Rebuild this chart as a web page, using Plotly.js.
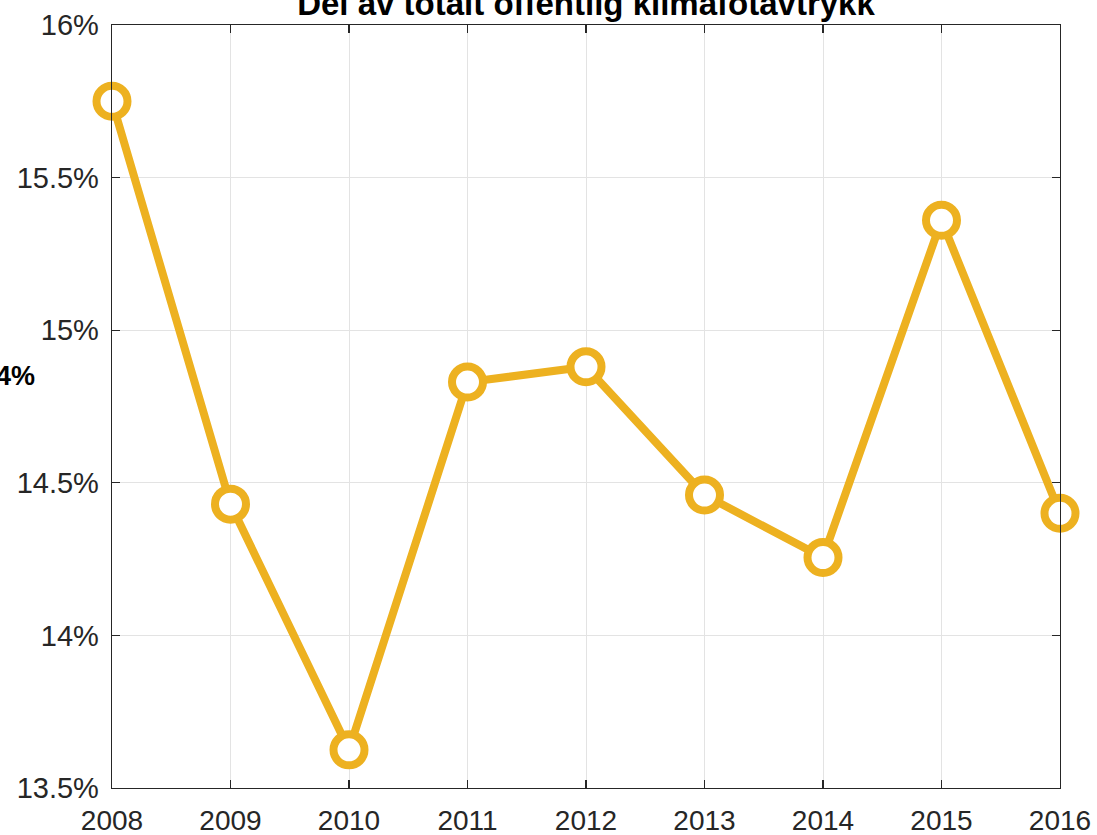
<!DOCTYPE html>
<html>
<head>
<meta charset="utf-8">
<script src="https://cdn.plot.ly/plotly-3.0.1.min.js"></script>
<style>html,body{margin:0;padding:0;background:#fff;}#chart{width:1097px;height:835px;}</style>
</head>
<body>
<div id="chart"></div>
<script>
const years = [2008, 2009, 2010, 2011, 2012, 2013, 2014, 2015, 2016];
const shares = [15.75, 14.43, 13.625, 14.83, 14.88, 14.46, 14.255, 15.36, 14.40];
const yTicks = [13.5, 14, 14.5, 15, 15.5, 16];
const yTickLabels = ['13.5%', '14%', '14.5%', '15%', '15.5%', '16%'];
const titleText = 'Del av totalt offentlig klimafotavtrykk';
const sideLabel = '14%';
const sideLabelValue = 14.85;

const color = '#EDB120';
const axisColor = '#262626';

const trace = {
  x: years,
  y: shares,
  type: 'scatter',
  mode: 'lines+markers',
  cliponaxis: false,
  line: {color: color, width: 8},
  marker: {symbol: 'circle', size: 31, color: '#ffffff', line: {color: color, width: 8}},
  hoverinfo: 'skip'
};

const layout = {
  width: 1097,
  height: 835,
  margin: {l: 112, r: 37, t: 25, b: 47},
  paper_bgcolor: '#ffffff',
  plot_bgcolor: '#ffffff',
  showlegend: false,
  font: {family: 'Liberation Sans, Arial, sans-serif', color: axisColor},
  title: {
    text: '<b>' + titleText + '</b>',
    font: {size: 33, color: '#000000', family: 'Liberation Sans, Arial, sans-serif'},
    x: 0.5, xanchor: 'center', xref: 'paper',
    y: 0.996, yanchor: 'middle', yref: 'container'
  },
  xaxis: {
    range: [2008, 2016],
    tickvals: years,
    ticktext: years.map(String),
    tickfont: {size: 28, color: axisColor},
    ticklabelstandoff: 7,
    showgrid: true, gridcolor: '#e3e3e3', gridwidth: 1,
    zeroline: false,
    showline: true, linecolor: axisColor, linewidth: 1.3,
    mirror: 'ticks',
    ticks: 'inside', ticklen: 8, tickcolor: axisColor, tickwidth: 1.3
  },
  yaxis: {
    range: [13.5, 16],
    tickvals: yTicks,
    ticktext: yTickLabels,
    tickfont: {size: 29, color: axisColor},
    ticklabelstandoff: 6,
    showgrid: true, gridcolor: '#e3e3e3', gridwidth: 1,
    zeroline: false,
    showline: true, linecolor: axisColor, linewidth: 1.3,
    mirror: 'ticks',
    ticks: 'inside', ticklen: 8, tickcolor: axisColor, tickwidth: 1.3
  },
  annotations: [{
    text: '<b>' + sideLabel + '</b>',
    xref: 'paper', yref: 'y',
    x: -0.079, y: sideLabelValue,
    xanchor: 'right', yanchor: 'middle',
    showarrow: false,
    font: {size: 27, color: '#000000', family: 'Liberation Sans, Arial, sans-serif'}
  }]
};

Plotly.newPlot('chart', [trace], layout, {staticPlot: true, displayModeBar: false});
</script>
</body>
</html>
